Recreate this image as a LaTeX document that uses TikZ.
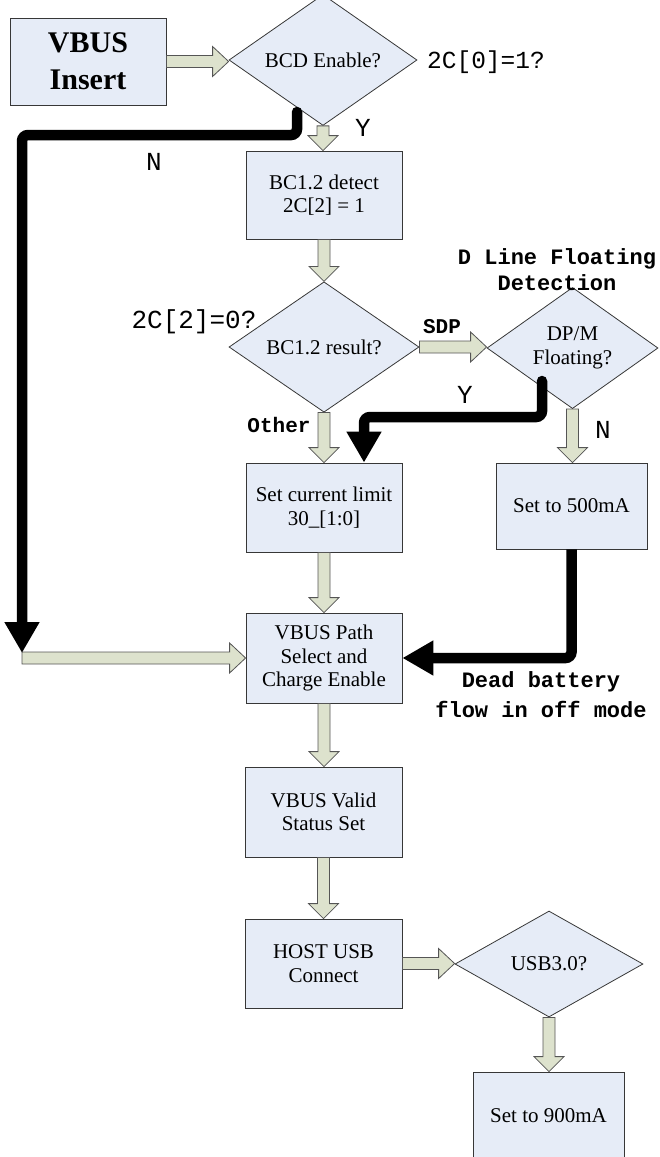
\documentclass[tikz,border=0pt]{standalone}
\usepackage{fontspec}
\setmainfont{Liberation Serif}
\setmonofont{Liberation Mono}
\usetikzlibrary{shapes.geometric,arrows.meta,calc}
\definecolor{boxfill}{RGB}{230,236,247}
\definecolor{boxline}{RGB}{55,55,55}
\definecolor{arrfill}{RGB}{221,226,205}
\definecolor{arrline}{RGB}{85,85,85}
\newcommand{\boxfont}{\fontsize{21}{23.5}\selectfont}
\newcommand{\vblock}[2]{\filldraw[blk] let \p1=(#1), \p2=(#2) in (\x1-6pt,\y1) -- (\x1+6pt,\y1) -- (\x1+6pt,\y2+15pt) -- (\x1+15pt,\y2+15pt) -- (\x1,\y2) -- (\x1-15pt,\y2+15pt) -- (\x1-6pt,\y2+15pt) -- cycle;}
\newcommand{\hblock}[2]{\filldraw[blk] let \p1=(#1), \p2=(#2) in (\x1,\y1+6pt) -- (\x2-16pt,\y1+6pt) -- (\x2-16pt,\y1+15pt) -- (\x2,\y1) -- (\x2-16pt,\y1-15pt) -- (\x2-16pt,\y1-6pt) -- (\x1,\y1-6pt) -- cycle;}
\tikzset{
  procbox/.style={draw=boxline, fill=boxfill, line width=0.8pt, minimum width=156pt, minimum height=88pt, inner sep=0pt, align=center, font=\boxfont},
  decbox/.style={diamond, draw=boxline, fill=boxfill, line width=0.8pt, inner sep=0pt, align=center, font=\boxfont},
  blk/.style={draw=arrline, fill=arrfill, line width=0.8pt, line join=miter},
  bline/.style={line width=10.5pt, black, rounded corners=6pt, line cap=round, -{Triangle[width=33pt,length=31pt]}},
  lab/.style={inner sep=0pt, font=\ttfamily\fontsize{26}{28}\selectfont},
  blab/.style={inner sep=0pt, align=center, font=\ttfamily\bfseries\fontsize{22}{26}\selectfont},
}
\begin{document}
\begin{tikzpicture}[x=1pt,y=-1pt]
\useasboundingbox (0,0) rectangle (659,1157);
% process boxes
\node[procbox, minimum height=87pt, font=\bfseries\fontsize{30}{37}\selectfont] (ins) at (88,61.5) {VBUS\\Insert};
\node[procbox] (det) at (324,195) {BC1.2 detect\\2C[2] = 1};
\node[procbox, minimum height=89pt] (cur) at (324,507.5) {Set current limit\\30\_[1:0]};
\node[procbox, minimum width=151pt, minimum height=86pt] (s500) at (571.5,506) {Set to 500mA};
\node[procbox, minimum height=90pt] (path) at (324,658) {VBUS Path\\Select and\\Charge Enable};
\node[procbox, minimum width=157pt, minimum height=90pt] (valid) at (323.5,812) {VBUS Valid\\Status Set};
\node[procbox, minimum width=157pt, minimum height=89pt] (host) at (323.5,963.5) {HOST USB\\Connect};
\node[procbox, minimum width=151pt, minimum height=88pt] (s900) at (548.5,1116) {Set to 900mA};
% decisions
\node[decbox, minimum width=188pt, minimum height=106pt] (bcd) at (323,60) {BCD Enable?};
\node[decbox, minimum width=190pt, minimum height=106pt] (res) at (324,347) {BC1.2 result?};
\node[decbox, minimum width=171pt, minimum height=108pt] (dpm) at (572.5,348) {DP/M\\Floating?};
\node[decbox, minimum width=188pt, minimum height=106pt] (usb) at (549,964) {USB3.0?};
% helper coordinates
\coordinate (nstart) at (297,112);
\coordinate (ncorner) at (22,658);
\coordinate (ntip) at (22,653);
\coordinate (ystart) at (542,381);
\coordinate (ytip) at ($(cur.north)+(40,0)$);
% block arrows
\hblock{ins.east}{bcd.west}
\vblock{bcd.south}{det.north}
\vblock{det.south}{res.north}
\hblock{res.east}{dpm.west}
\vblock{res.south}{cur.north}
\vblock{dpm.south}{s500.north}
\vblock{cur.south}{path.north}
\hblock{ncorner}{path.west}
\vblock{path.south}{valid.north}
\vblock{valid.south}{host.north}
\hblock{host.east}{usb.west}
\vblock{usb.south}{s900.north}
% thick black connectors
\draw[bline] (nstart) -- ++(0,23) -| (ntip);
\draw[bline] (ystart) -- ++(0,36) -| (ytip);
\draw[bline, line cap=butt] (s500.south) |- (path.east);
% labels
\node[lab, font=\ttfamily\fontsize{24.5}{28}\selectfont] (l2c0) at (486,62) {2C[0]=1?};
\node[lab] (ly1) at (363,128) {Y};
\node[lab] (ln1) at (154,162) {N};
\node[lab] (l2c2) at (194,322) {2C[2]=0?};
\node[blab, font=\ttfamily\bfseries\fontsize{21}{24}\selectfont] (lsdp) at (442,327) {SDP};
\node[blab] (ldl) at (557,270) {D Line Floating\\Detection};
\node[lab] (ly2) at (465,395) {Y};
\node[blab, font=\ttfamily\bfseries\fontsize{21}{24}\selectfont] (loth) at (279,425) {Other};
\node[lab] (ln2) at (603,430) {N};
\node[blab, font=\ttfamily\bfseries\fontsize{22}{30}\selectfont] (ldead) at (541,695) {Dead battery\\flow in off mode};
\end{tikzpicture}
\end{document}
